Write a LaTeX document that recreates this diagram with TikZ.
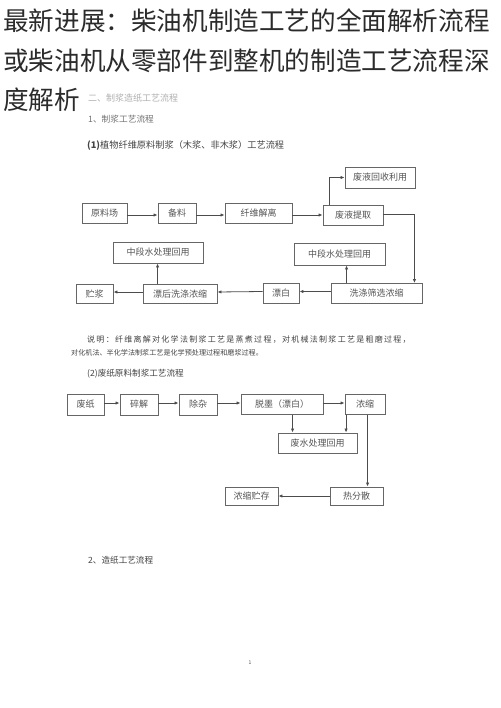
\documentclass[tikz,border=0pt]{standalone}
\usepackage{fontspec}
\setmainfont{Noto Sans CJK SC}
\usetikzlibrary{arrows.meta}
\definecolor{boxline}{HTML}{666666}
\definecolor{boxtext}{HTML}{555555}
\definecolor{titletext}{HTML}{2B2B2B}
\definecolor{bodytext}{HTML}{444444}
\definecolor{faint}{HTML}{B0B0B0}
\begin{document}
\begin{tikzpicture}[x=1pt,y=-1pt,
  box/.style 2 args={draw=boxline, line width=0.9pt, inner sep=0pt, text=boxtext,
    font=\fontsize{9}{10}\selectfont, minimum width=#1pt, minimum height=#2pt},
  arr/.style={draw=black!70, line width=0.8pt, -{Latex[length=4pt,width=3.4pt]}},
  ln/.style={draw=black!70, line width=0.8pt},
  titlestyle/.style={anchor=west, inner sep=0pt, text=titletext, font=\fontsize{25.6}{26}\selectfont},
  body/.style={anchor=west, inner sep=0pt, text=bodytext}]
\useasboundingbox[fill=white] (0,0) rectangle (500,708);

% title
\node[titlestyle] (t1) at (3,21) {最新进展：柴油机制造工艺的全面解析流程};
\node[titlestyle] (t2) at (3,61) {或柴油机从零部件到整机的制造工艺流程深};
\node[titlestyle] (t3) at (3,100) {度解析};

% headings
\node[body, text=faint, font=\fontsize{9}{10}\selectfont] (h0) at (88,98) {二、制浆造纸工艺流程};
\node[body, text=black!55, font=\fontsize{8.7}{10}\selectfont] (h1) at (88,119) {1、制浆工艺流程};
\node[body, font=\fontsize{9.2}{10}\selectfont] (h2) at (87,146) {\textbf{(1)}植物纤维原料制浆（木浆、非木浆）工艺流程};

% flow 1
\node[box={70}{21}] (hy) at (380,177.5) {废液回收利用};
\node[box={45}{20}] (yl) at (104.5,213) {原料场};
\node[box={38}{20}] (bl) at (177,213) {备料};
\node[box={67}{20}] (xw) at (258.5,213) {纤维解离};
\node[box={60}{20}] (fy) at (353,215) {废液提取};
\node[box={90}{21}] (zl) at (158,252.5) {中段水处理回用};
\node[box={91}{22}] (zr) at (339.5,254) {中段水处理回用};
\node[box={37}{19}] (zj) at (94.5,294) {贮浆};
\node[box={74}{19}] (ph) at (180,294) {漂后洗涤浓缩};
\node[box={36}{20}] (pb) at (281,293.5) {漂白};
\node[box={91}{20}] (xd) at (376.5,293.5) {洗涤筛选浓缩};

\draw[arr] (yl.east |- fy.center) -- (bl.west |- fy.center);
\draw[arr] (bl.east |- fy.center) -- (xw.west |- fy.center);
\draw[arr] (xw.east |- fy.center) -- (fy.west);
\draw[arr] ([xshift=7pt]fy.north west) coordinate (a1) |- (hy.west);
\coordinate (a2) at ([xshift=-8pt]xd.north east);
\draw[arr] ([yshift=1pt]fy.east) -| (a2);
\draw[arr] ([yshift=2pt]xd.west) -- ([yshift=2pt]pb.east);
\draw[arr] ([yshift=2pt]pb.west) -- ([yshift=2pt]ph.east);
\draw[arr] ([yshift=2pt]ph.west) -- ([yshift=2pt]zj.east);
\draw[arr] ([xshift=15pt]ph.north west) coordinate (a3) -- (a3 |- zl.south);
\draw[arr] ([xshift=16pt]xd.north west) coordinate (a4) -- (a4 |- zr.south);

% note
\node[body, font=\fontsize{8}{10}\selectfont\addfontfeature{LetterSpace=16}] (n1) at (87,340) {说明：纤维离解对化学法制浆工艺是蒸煮过程，对机械法制浆工艺是粗磨过程，};
\node[body, font=\fontsize{7.1}{10}\selectfont] (n2) at (71,353) {对化机法、半化学法制浆工艺是化学预处理过程和磨浆过程。};
\node[body, font=\fontsize{8.6}{10}\selectfont] (h3) at (87,374) {(2)废纸原料制浆工艺流程};

% flow 2
\node[box={37}{21}] (fz) at (85.5,404.5) {废纸};
\node[box={38}{21}] (sj) at (139,404.5) {碎解};
\node[box={38}{21}] (cz) at (198,404.5) {除杂};
\node[box={82}{20}] (tm) at (282,404.5) {脱墨（漂白）};
\node[box={40}{20}] (ns) at (365,404.5) {浓缩};
\node[box={79}{20}] (fs) at (317.5,443) {废水处理回用};
\node[box={53}{18}] (rf) at (356.5,496) {热分散};
\node[box={53}{18}] (nc) at (251.5,496) {浓缩贮存};

\draw[arr] ([yshift=1.5pt]fz.east) -- ([yshift=1.5pt]sj.west);
\draw[arr] ([yshift=1.5pt]sj.east) -- ([yshift=1.5pt]cz.west);
\draw[arr] ([yshift=1.5pt]cz.east) -- ([yshift=1.5pt]tm.west);
\draw[arr] ([yshift=1.5pt]tm.east) -- ([yshift=1.5pt]ns.west);
\draw[arr] ([xshift=52pt]tm.south west) coordinate (b1) -- (b1 |- fs.north);
\draw[arr] ([xshift=1.5pt]ns.south west) coordinate (b2) -- (b2 |- fs.north);
\draw[arr] ([xshift=23pt]ns.south west) coordinate (b3) -- (b3 |- rf.north);
\draw[arr] (rf.west) -- (nc.east);

\node[body, font=\fontsize{8.6}{10}\selectfont] (h4) at (88,560) {2、造纸工艺流程};
\node[inner sep=0pt, text=black!70, font=\fontsize{5}{6}\selectfont] (pg) at (250,663) {1};
\end{tikzpicture}
\end{document}
